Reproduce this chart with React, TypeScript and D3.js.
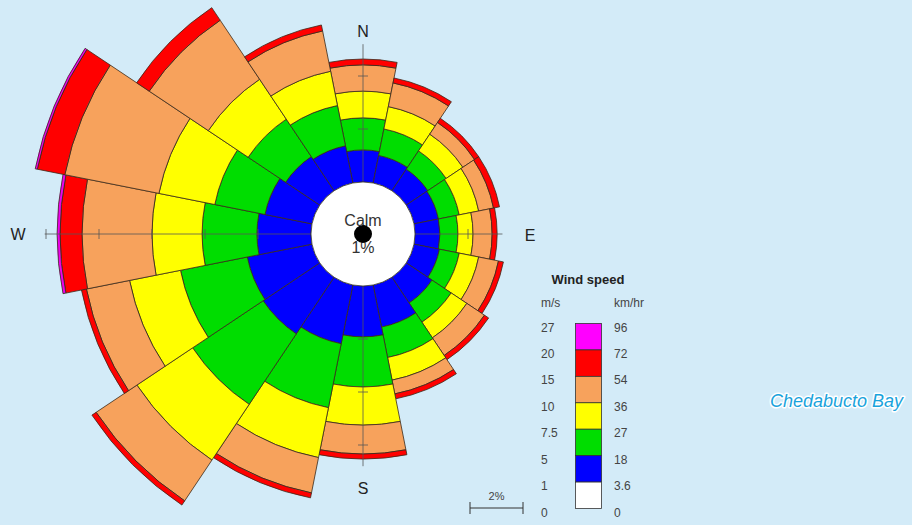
import React from 'react';
import * as d3 from 'd3';

// 16 compass sectors, clockwise from North
const directions = ['N','NNE','NE','ENE','E','ESE','SE','SSE','S','SSW','SW','WSW','W','WNW','NW','NNW'];

// frequency (%) per direction for each wind speed class
const freq1to5    = [1.21,1.06,0.98,0.94,0.94,0.98,1.17,1.62,1.92,2.26,2.57,2.49,2.04,1.81,1.55,1.43];
const freq5to7    = [1.21,1.02,0.83,0.80,0.68,0.76,0.87,1.17,1.89,2.46,3.20,2.57,2.07,1.93,1.70,1.55];
const freq7to10   = [1.01,0.86,0.76,0.75,0.57,0.75,0.71,0.87,1.44,1.92,2.53,1.96,1.89,2.15,1.81,1.32];
const freq10to15  = [0.99,0.91,0.53,0.57,0.72,0.76,0.80,0.53,1.09,1.36,1.85,1.66,2.64,3.62,2.68,1.55];
const freq15to20  = [0.22,0.19,0.19,0.23,0.19,0.19,0.19,0.19,0.19,0.19,0.19,0.19,0.83,1.06,0.57,0.23];
const freq20to27  = [0,0,0,0,0,0,0,0,0,0,0,0,0.11,0.08,0,0];

const seriesList = [freq1to5, freq5to7, freq7to10, freq10to15, freq15to20, freq20to27];
const seriesColors = ['#0000ff', '#00dd00', '#ffff00', '#f7a25c', '#ff0000', '#ee00ee'];

// compass axis labels and axis extents (%)
const axisLabels = ['N', 'E', 'S', 'W'];
const axisExtent = [5.2, 3.3, 6.8, 10.05];
const gridTicks = [2, 4, 6, 8, 10];

// legend
const legendMs = ['27', '20', '15', '10', '7.5', '5', '1', '0'];
const legendKmh = ['96', '72', '54', '36', '27', '18', '3.6', '0'];
const legendColors = ['#ff00ff', '#ff0000', '#f7a25c', '#ffff00', '#00dd00', '#0000ff', '#ffffff'];

const calmLabel = 'Calm';
const calmValue = '1%';
const scaleBarPct = 2;
const siteName = 'Chedabucto Bay';

const W = 912;
const H = 525;
const cx = 363;
const cy = 234;
const calmR = 52;
const pxPerPct = 26.5;
const font = 'Liberation Sans, Arial, Helvetica, sans-serif';

export default function App() {
  const r = d3.scaleLinear().domain([0, 12]).range([calmR, calmR + 12 * pxPerPct]);
  const step = (2 * Math.PI) / directions.length;
  const arc = d3.arc<any>();

  const wedges: any[] = [];
  directions.forEach((dir, i) => {
    let cum = 0;
    seriesList.forEach((s, k) => {
      const v = s[i];
      if (v <= 0) return;
      const inner = cum;
      cum += v;
      wedges.push({
        key: dir + k,
        color: seriesColors[k],
        d: arc({
          innerRadius: r(inner),
          outerRadius: r(cum),
          startAngle: i * step - step / 2,
          endAngle: i * step + step / 2,
        }),
      });
    });
  });

  const axes = axisLabels.map((lab, j) => {
    const ang = (j * Math.PI) / 2;
    const ux = Math.sin(ang);
    const uy = -Math.cos(ang);
    const len = r(axisExtent[j]);
    const ticks = gridTicks.filter((t) => t < axisExtent[j]).map((t) => {
      const rr = r(t);
      const px = cx + ux * rr;
      const py = cy + uy * rr;
      return { key: lab + t, x1: px - uy * 5, y1: py + ux * 5, x2: px + uy * 5, y2: py - ux * 5 };
    });
    return { lab, x2: cx + ux * len, y2: cy + uy * len, ticks };
  });

  const labelPos: Record<string, [number, number]> = {
    N: [cx, 31], E: [530, cy + 1], S: [cx, 488], W: [18, cy],
  };

  const ly = d3.scaleLinear().domain([0, 7]).range([323.5, 508.5]);
  const barLen = pxPerPct * scaleBarPct;

  return (
    <svg width={W} height={H} style={{ position: 'absolute', left: 0, top: 0 }} xmlns="http://www.w3.org/2000/svg">
      <rect x={0} y={0} width={W} height={H} fill="#d3ebf8" />
      <g transform={`translate(${cx},${cy})`}>
        {wedges.map((w) => (
          <path key={w.key} d={w.d} fill={w.color} stroke="#3a2a1a" strokeWidth={0.8} strokeLinejoin="round" />
        ))}
      </g>
      {axes.map((a) => (
        <g key={a.lab}>
          <line x1={cx} y1={cy} x2={a.x2} y2={a.y2} stroke="#555" strokeWidth={0.8} />
          {a.ticks.map((t) => (
            <line key={t.key} x1={t.x1} y1={t.y1} x2={t.x2} y2={t.y2} stroke="#555" strokeWidth={0.8} />
          ))}
        </g>
      ))}
      <circle cx={cx} cy={cy} r={calmR} fill="#ffffff" stroke="#333" strokeWidth={0.8} />
      <text x={cx} y={226} textAnchor="middle" fontFamily={font} fontSize={16} fill="#333">{calmLabel}</text>
      <text x={cx} y={253} textAnchor="middle" fontFamily={font} fontSize={16} fill="#333">{calmValue}</text>
      <circle cx={cx} cy={cy} r={9} fill="#000" />
      {axisLabels.map((lab) => (
        <text key={lab} x={labelPos[lab][0]} y={labelPos[lab][1]} textAnchor="middle" dominantBaseline="central"
          fontFamily={font} fontSize={16} fill="#222">{lab}</text>
      ))}

      {/* legend */}
      <text x={588} y={284} textAnchor="middle" fontFamily={font} fontSize={13} fontWeight="bold" fill="#222">Wind speed</text>
      <text x={541} y={307} fontFamily={font} fontSize={12} fill="#444">m/s</text>
      <text x={614} y={307} fontFamily={font} fontSize={12} fill="#444">km/hr</text>
      {legendColors.map((c, i) => (
        <rect key={c + i} x={575.5} y={ly(i)} width={26} height={ly(i + 1) - ly(i)} fill={c} stroke="#333" strokeWidth={0.8} />
      ))}
      {legendMs.map((t, i) => (
        <text key={'ms' + i} x={541} y={ly(i) + 4} dominantBaseline="central" fontFamily={font} fontSize={12} fill="#444">{t}</text>
      ))}
      {legendKmh.map((t, i) => (
        <text key={'kmh' + i} x={614} y={ly(i) + 4} dominantBaseline="central" fontFamily={font} fontSize={12} fill="#444">{t}</text>
      ))}

      {/* scale bar */}
      <text x={470 + barLen / 2} y={500} textAnchor="middle" fontFamily={font} fontSize={11} fill="#444">{scaleBarPct}%</text>
      <line x1={470} y1={508} x2={470 + barLen} y2={508} stroke="#333" strokeWidth={1} />
      <line x1={470} y1={502} x2={470} y2={514} stroke="#333" strokeWidth={1} />
      <line x1={470 + barLen} y1={502} x2={470 + barLen} y2={514} stroke="#333" strokeWidth={1} />

      <text x={770} y={407} fontFamily={font} fontSize={18} fontStyle="italic" fill="#1aa3dc"
        stroke="#ffffff" strokeWidth={3} paintOrder="stroke" strokeLinejoin="round">{siteName}</text>
    </svg>
  );
}
